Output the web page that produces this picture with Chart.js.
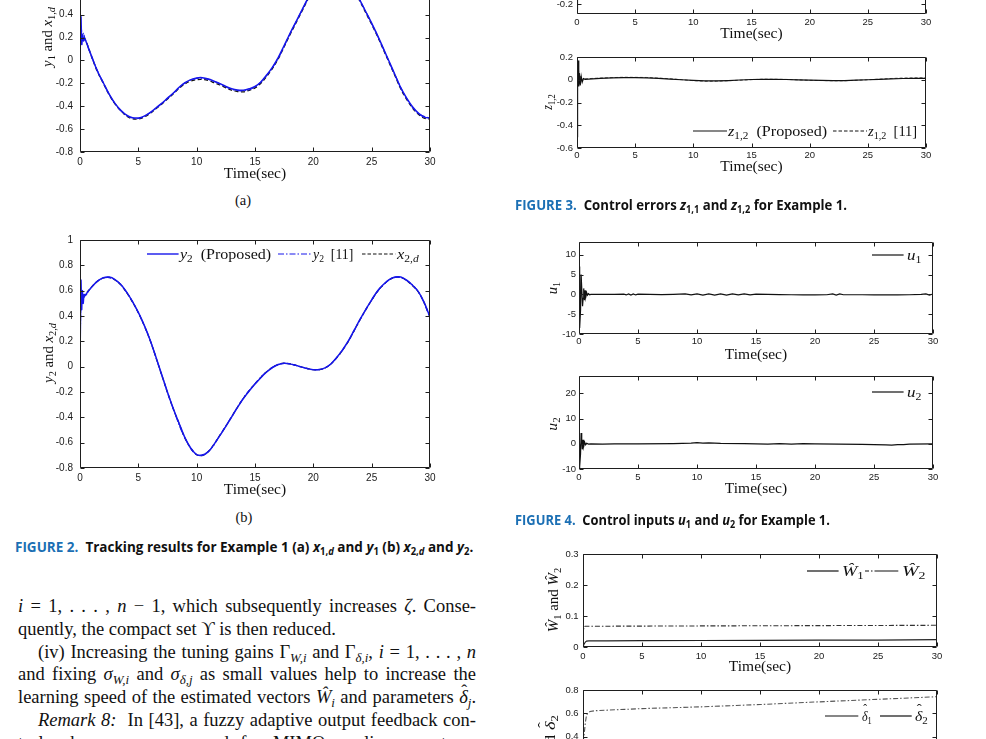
<!DOCTYPE html>
<html><head><meta charset="utf-8">
<script src="https://cdn.jsdelivr.net/npm/chart.js@4.4.0/dist/chart.umd.min.js"></script>
<style>
html,body{margin:0;padding:0;background:#fff;width:986px;height:739px;overflow:hidden;position:relative;}
.lab{position:absolute;white-space:nowrap;font-family:"Liberation Serif","DejaVu Serif",serif;line-height:1;color:#111;}
.cen{transform:translate(-50%,-50%);transform-origin:50% 50%;}
.lft{transform:translate(0,-50%);transform-origin:0 50%;}
.cap{position:absolute;white-space:nowrap;font-family:"Open Sans","Noto Sans",sans-serif;font-weight:700;font-size:14px;line-height:1;color:#111;transform:translate(0,-50%);transform-origin:0 50%;}
.cap .fig{color:#1b6fb4;}
.body{position:absolute;font-family:"Liberation Serif","DejaVu Serif",serif;font-size:18.5px;line-height:22.7px;height:22.7px;color:#111;white-space:nowrap;}
.just{text-align:justify;text-align-last:justify;white-space:normal;}
sub{font-size:70%;vertical-align:-0.3em;line-height:0;}
.hat{position:relative;display:inline-block;font-style:italic;}
.hat::after{content:"\02C6";position:absolute;left:0.12em;top:-0.42em;font-style:normal;font-size:0.95em;}
</style></head><body>

<!-- axis labels, legends, captions (real text) -->
<div class="lab cen" data-rot="1" data-w="60" style="left:47px;top:37px;font-size:14.5px"><i>y</i><sub>1</sub> and <i>x</i><sub>1,<i>d</i></sub></div>
<div class="lab cen" data-rot="1" data-w="60" style="left:48px;top:353px;font-size:14.5px"><i>y</i><sub>2</sub> and <i>x</i><sub>2,<i>d</i></sub></div>
<div class="lab cen" data-rot="1" data-w="15" style="left:547px;top:102px;font-size:14.5px"><i>z</i><sub>1,2</sub></div>
<div class="lab cen" data-rot="1" data-w="12" style="left:552px;top:288px;font-size:14.5px"><i>u</i><sub>1</sub></div>
<div class="lab cen" data-rot="1" data-w="13" style="left:552px;top:423.5px;font-size:14.5px"><i>u</i><sub>2</sub></div>
<div class="lab cen" data-rot="1" data-w="65" style="left:553px;top:600px;font-size:14.5px"><i>Ŵ</i><sub>1</sub> and <i>Ŵ</i><sub>2</sub></div>
<div class="lab cen" data-rot="1" data-w="66" style="left:550px;top:748px;font-size:14.5px"><span class="hat">δ</span><sub>1</sub> and <span class="hat">δ</span><sub>2</sub></div>

<div class="lab cen" style="left:243px;top:200px;font-size:14.5px">(a)</div>
<div class="lab cen" style="left:244px;top:517px;font-size:14.5px">(b)</div>

<div class="lab lft" data-w="90.7" style="left:180px;top:254px;font-size:14.5px"><i>y</i><sub>2</sub>&nbsp; (Proposed)</div>
<div class="lab lft" data-w="40" style="left:313px;top:254px;font-size:14.5px"><i>y</i><sub>2</sub>&nbsp; [11]</div>
<div class="lab lft" data-w="21.6" style="left:396.7px;top:254px;font-size:14.5px"><i>x</i><sub>2,<i>d</i></sub></div>

<div class="lab lft" data-w="99" style="left:728px;top:131px;font-size:14.5px"><i>z</i><sub>1,2</sub>&nbsp; (Proposed)</div>
<div class="lab lft" data-w="49" style="left:868px;top:131px;font-size:14.5px"><i>z</i><sub>1,2</sub>&nbsp; [11]</div>
<div class="lab lft" data-w="14" style="left:906.7px;top:255px;font-size:14.5px"><i>u</i><sub>1</sub></div>
<div class="lab lft" data-w="14" style="left:906.7px;top:391.7px;font-size:14.5px"><i>u</i><sub>2</sub></div>
<div class="lab lft" data-w="21.6" style="left:841.7px;top:570.7px;font-size:14.5px"><i>Ŵ</i><sub>1</sub></div>
<div class="lab lft" data-w="23.3" style="left:901.7px;top:570.7px;font-size:14.5px"><i>Ŵ</i><sub>2</sub></div>
<div class="lab lft" data-w="10" style="left:861.7px;top:716px;font-size:14.5px"><span class="hat">δ</span><sub>1</sub></div>
<div class="lab lft" data-w="13" style="left:915px;top:716px;font-size:14.5px"><span class="hat">δ</span><sub>2</sub></div>

<div class="cap" data-w="458" style="left:15px;top:547px"><span class="fig">FIGURE 2.</span>&nbsp; Tracking results for Example 1 (a) <i>x</i><sub>1,<i>d</i></sub> and <i>y</i><sub>1</sub> (b) <i>x</i><sub>2,<i>d</i></sub> and <i>y</i><sub>2</sub>.</div>
<div class="cap" data-w="332" style="left:515px;top:205px"><span class="fig">FIGURE 3.</span>&nbsp; Control errors <i>z</i><sub>1,1</sub> and <i>z</i><sub>1,2</sub> for Example 1.</div>
<div class="cap" data-w="315" style="left:515px;top:520px"><span class="fig">FIGURE 4.</span>&nbsp; Control inputs <i>u</i><sub>1</sub> and <i>u</i><sub>2</sub> for Example 1.</div>

<div class="body just" style="left:18px;width:458px;top:595.3px"><i>i</i> = 1, . . . , <i>n</i> − 1, which subsequently increases <i>ζ</i>. Conse-</div>
<div class="body" style="left:18px;top:618px">quently, the compact set ϒ is then reduced.</div>
<div class="body just" style="left:38px;width:438px;top:640.7px">(iv) Increasing the tuning gains Γ<sub><i>W,i</i></sub> and Γ<sub><i>δ,i</i></sub>, <i>i</i> = 1, . . . , <i>n</i></div>
<div class="body just" style="left:18px;width:458px;top:663.4px">and fixing <i>σ</i><sub><i>W,i</i></sub> and <i>σ</i><sub><i>δ,j</i></sub> as small values help to increase the</div>
<div class="body just" style="left:18px;width:458px;top:686.1px">learning speed of the estimated vectors <i>Ŵ</i><sub><i>i</i></sub> and parameters <span class="hat">δ</span><sub><i>j</i></sub>.</div>
<div class="body just" style="left:38px;width:438px;top:708.8px"><i>Remark 8:</i>&nbsp; In [43], a fuzzy adaptive output feedback con-</div>
<div class="body just" style="left:18px;width:458px;top:731.5px">trol scheme was proposed for MIMO nonlinear systems</div>

<script>
// ---------------- DATA ----------------
const xTicks = [0, 5, 10, 15, 20, 25, 30];

// Fig 2(a): y1 and x1,d
const ticksA = [-0.8, -0.6, -0.4, -0.2, 0, 0.2, 0.4, 0.6, 0.8, 1, 1.2];
const tA = [0,0.5,1,1.5,2,2.5,3,3.5,4,4.5,5,5.5,6,6.5,7,7.5,8,8.5,9,9.5,10,10.5,11,11.5,12,12.5,13,13.5,14,14.5,15,15.5,16,16.5,17,17.5,18,18.5,19,19.5,20,21,22,23,23.5,24,24.5,25,25.5,26,26.5,27,27.5,28,28.5,29,29.5,30];
const x1d = [0.25,0.17,0.03,-0.1,-0.2,-0.3,-0.38,-0.44,-0.487,-0.51,-0.512,-0.495,-0.463,-0.423,-0.382,-0.337,-0.292,-0.244,-0.205,-0.18,-0.168,-0.166,-0.176,-0.195,-0.215,-0.24,-0.26,-0.272,-0.274,-0.262,-0.24,-0.2,-0.14,-0.07,0.015,0.12,0.225,0.325,0.425,0.525,0.615,0.735,0.775,0.695,0.615,0.515,0.415,0.315,0.21,0.095,-0.02,-0.135,-0.25,-0.34,-0.415,-0.47,-0.505,-0.512];
const tY1trans = [0,0.08,0.15,0.22,0.3,0.4];
const y1Trans  = [0,0.38,0.14,0.22,0.17,0.19];
const y1Prop = [0.17,0.035,-0.095,-0.195,-0.295,-0.375,-0.435,-0.478,-0.5,-0.503,-0.487,-0.456,-0.416,-0.375,-0.33,-0.285,-0.235,-0.195,-0.168,-0.153,-0.151,-0.162,-0.182,-0.203,-0.227,-0.247,-0.258,-0.26,-0.248,-0.228,-0.188,-0.128,-0.058,0.027,0.13,0.235,0.335,0.435,0.535,0.625,0.745,0.785,0.705,0.625,0.525,0.425,0.325,0.22,0.105,-0.01,-0.125,-0.24,-0.33,-0.405,-0.46,-0.495,-0.503];
const tY1ref = [0,0.1,0.2,0.3,0.4,1,2,3,4,5,6,7,8,9,10,11,12,13,14,15,16,17,18,19,20,21,22,23,24,25,26,27,28,29,30];
const y1Ref  = [0,0.3,0.18,0.24,0.2,0.03,-0.198,-0.378,-0.482,-0.508,-0.458,-0.378,-0.288,-0.198,-0.157,-0.166,-0.207,-0.252,-0.266,-0.232,-0.132,0.022,0.232,0.432,0.622,0.742,0.782,0.702,0.522,0.322,0.102,-0.128,-0.333,-0.463,-0.505];

// Fig 2(b): y2 and x2,d
const ticksB = [-0.8, -0.6, -0.4, -0.2, 0, 0.2, 0.4, 0.6, 0.8, 1];
const tB = [0,0.5,1,1.5,2,2.5,3,3.5,4,4.5,5,5.5,6,6.5,7,7.5,8,8.5,9,9.5,10,10.5,11,11.5,12,12.5,13,13.5,14,14.5,15,15.5,16,16.5,17,17.5,18,18.5,19,19.5,20,20.5,21,21.5,22,22.5,23,23.5,24,24.5,25,25.5,26,26.5,27,27.5,28,28.5,29,29.5,30];
const x2d = [0.5,0.575,0.63,0.675,0.7,0.705,0.685,0.645,0.585,0.51,0.425,0.325,0.21,0.075,-0.065,-0.205,-0.335,-0.45,-0.565,-0.645,-0.695,-0.7,-0.67,-0.61,-0.54,-0.47,-0.395,-0.32,-0.25,-0.19,-0.135,-0.085,-0.04,-0.005,0.018,0.028,0.022,0.01,-0.003,-0.015,-0.024,-0.023,-0.01,0.02,0.07,0.13,0.2,0.285,0.37,0.45,0.525,0.595,0.645,0.685,0.705,0.705,0.68,0.64,0.59,0.505,0.39];
const tY2trans = [0,0.08,0.14,0.2,0.27,0.35,0.45];
const y2Trans  = [0,0.68,0.45,0.6,0.5,0.57,0.56];
const y2Prop = [0.57,0.628,0.675,0.702,0.707,0.688,0.648,0.588,0.513,0.428,0.328,0.213,0.078,-0.062,-0.202,-0.332,-0.448,-0.562,-0.643,-0.694,-0.7,-0.671,-0.612,-0.542,-0.472,-0.397,-0.322,-0.252,-0.192,-0.137,-0.087,-0.042,-0.007,0.017,0.027,0.022,0.01,-0.003,-0.015,-0.024,-0.023,-0.01,0.021,0.072,0.133,0.203,0.288,0.373,0.453,0.528,0.598,0.648,0.688,0.708,0.708,0.683,0.643,0.593,0.508,0.392];
const tY2ref = [0,0.1,0.2,0.3,0.4,1,2,3,4,5,6,7,8,9,10,11,12,13,14,15,16,17,18,19,20,21,22,23,24,25,26,27,28,29,30];
const y2Ref  = [0,0.55,0.5,0.56,0.55,0.63,0.7,0.686,0.586,0.426,0.211,-0.064,-0.334,-0.564,-0.694,-0.669,-0.539,-0.394,-0.249,-0.134,-0.039,0.018,0.022,-0.003,-0.024,-0.01,0.07,0.2,0.37,0.525,0.645,0.705,0.68,0.59,0.39];

// Fig 3: z1,1 (top, mostly cropped) and z1,2
const ticksZ11 = [-0.2, 0, 0.2];
const tZ11 = [0,0.05,0.1,0.2,0.3,0.5,1,5,10,15,20,25,30];
const z11  = [-0.25,0.12,-0.08,0.04,-0.02,0.01,0,0.01,-0.01,0.005,-0.005,0.005,0];
const ticksZ12 = [-0.6, -0.4, -0.2, 0, 0.2];
const tZ12p = [0,0.05,0.1,0.15,0.2,0.28,0.36,0.45,0.55,0.7,1,2,3,4,5,6,7,8,9,10,11,12,13,14,15,16,17,18,19,20,21,22,23,24,25,26,27,28,29,30];
const z12Prop = [-0.5,0.1,0.17,-0.06,0.06,-0.05,0.03,-0.02,0.01,0.004,0.006,0.012,0.016,0.018,0.018,0.016,0.012,0.006,0.0,-0.006,-0.01,-0.01,-0.007,-0.002,0.002,0.004,0.004,0.002,-0.001,-0.004,-0.006,-0.007,-0.007,-0.004,0.0,0.004,0.008,0.011,0.012,0.012];
const tZ12r = [0,0.06,0.12,0.2,0.3,0.45,0.7,1,2,4,6,8,10,11,12,14,16,18,20,22,23,25,27,28,30];
const z12Ref = [-0.5,0.05,0.12,-0.04,0.03,-0.01,0.008,0.01,0.015,0.022,0.02,0.009,-0.008,-0.013,-0.013,-0.004,0.005,0.003,-0.005,-0.009,-0.009,0.0,0.011,0.015,0.018];

// Fig 4: control inputs
const ticksU1 = [-10, -5, 0, 5, 10];
const tU1 = [0,0.03,0.08,0.13,0.18,0.24,0.3,0.35,0.4,0.46,0.52,0.58,0.65,0.72,0.8,0.9,1.0,1.5,2,3,3.8,4.0,4.2,4.4,4.6,4.8,5.0,6,7,8,9,9.5,10,10.5,11,11.5,12,12.5,13,13.5,14,14.5,15,16,17,18,19,20,21,21.5,21.8,22.1,22.4,23,24,25,26,27,28,29,29.4,29.7,30];
const u1 = [0,7,-8.5,-4,5,5,-3,-1,1.5,-1.5,1,-0.6,0.4,-0.2,0.15,-0.1,0,0,0,0,0.05,-0.15,0.1,-0.2,0.1,-0.15,0.05,0,-0.05,0,0.1,-0.15,0.1,-0.2,0.1,-0.2,0.1,-0.2,0.1,-0.15,0.1,-0.15,0.05,0,-0.05,-0.1,-0.15,-0.15,-0.1,0.1,-0.2,0.1,-0.1,-0.1,-0.1,-0.15,-0.1,-0.15,-0.1,0,0.1,-0.2,0.1];
const ticksU2 = [-10, 0, 10, 20];
const tU2 = [0,0.03,0.08,0.13,0.18,0.23,0.28,0.34,0.4,0.48,0.56,0.65,0.8,1,2,3,5,8,9.5,10,10.5,11,12,14,16,17,18,19,20,22,24,25,26,26.5,27,27.5,28,30];
const u2 = [0,-14,-9,-4,4.3,2,-2.2,1.6,-1,0.6,-0.4,0.2,-0.1,0,-0.1,0,0,0.1,0.3,0.5,0.3,0.4,0.2,0.1,-0.1,0.1,-0.1,0.1,0,-0.1,-0.2,-0.3,-0.4,-0.5,-0.3,-0.3,-0.1,0];

// Adaptive estimates
const ticksW = [0, 0.1, 0.2, 0.3];
const tW1 = [0,0.1,0.2,0.3,0.5,2,5,10,15,20,25,30];
const w1  = [0,0.01,0.016,0.019,0.02,0.02,0.0203,0.021,0.0215,0.022,0.0225,0.0235];
const tW2 = [0,0.03,0.08,0.2,1,10,20,30];
const w2  = [0,0.05,0.066,0.067,0.067,0.068,0.069,0.07];
const ticksD = [0, 0.2, 0.4, 0.6, 0.8];
const tD1 = [0,0.3,1,10,20,30];
const d1  = [0,0.12,0.15,0.2,0.24,0.27];
const tD2 = [0,0.1,0.2,0.3,0.4,0.6,1,5,10,15,20,25,30];
const d2  = [0.35,0.42,0.52,0.585,0.6,0.615,0.622,0.64,0.655,0.675,0.698,0.72,0.742];

// ---------------- RENDERING ----------------
const SANS = '"Liberation Sans", Arial, sans-serif';
const SERIF = '"Liberation Serif", "DejaVu Serif", serif';
const BLUE = 'rgb(22,22,235)';
const pts = (t, v) => t.map((x, i) => ({x: x, y: v[i]}));
const fmt = v => String(+(+v).toFixed(2));

const framePlugin = {
  id: 'frame',
  afterDatasetsDraw(chart) {
    const {ctx, chartArea: a} = chart;
    const xs = chart.scales.x, ys = chart.scales.y;
    const L = Math.round(a.left) + 0.5, R = Math.round(a.right) - 0.5;
    const T = Math.round(a.top) + 0.5, B = Math.round(a.bottom) - 0.5;
    const k = 4;
    ctx.save();
    ctx.strokeStyle = '#1e1e1e'; ctx.lineWidth = 1; ctx.setLineDash([]);
    ctx.beginPath();
    ctx.rect(L, T, R - L, B - T);
    xs.ticks.forEach(t => { const p = Math.round(xs.getPixelForValue(t.value)) + 0.5;
      ctx.moveTo(p, B); ctx.lineTo(p, B - k); ctx.moveTo(p, T); ctx.lineTo(p, T + k); });
    ys.ticks.forEach(t => { const p = Math.round(ys.getPixelForValue(t.value)) + 0.5;
      ctx.moveTo(L, p); ctx.lineTo(L + k, p); ctx.moveTo(R, p); ctx.lineTo(R - k, p); });
    ctx.stroke();
    ctx.restore();
  }
};

function makeChart(o) {
  const PL = 60, PT = 12, PR = 16, HX = 36;
  const L = Math.round(o.L), R = Math.round(o.R), T = Math.round(o.T), B = Math.round(o.B);
  const cw = R - L + PL + PR, ch = B - T + PT + HX;
  const cv = document.createElement('canvas');
  cv.width = cw; cv.height = ch;
  cv.style.cssText = `position:absolute;left:${L - PL}px;top:${T - PT}px;width:${cw}px;height:${ch}px;`;
  document.body.insertBefore(cv, document.body.firstChild);
  const fs = o.fs || 9;
  new Chart(cv, {
    type: 'line',
    data: {datasets: o.datasets.map(d => Object.assign({fill: false, pointRadius: 0, borderWidth: 1, tension: 0}, d))},
    options: {
      responsive: false, animation: false, devicePixelRatio: 1,
      layout: {padding: {left: 0, top: PT, right: PR, bottom: 0}},
      plugins: {legend: {display: false}, tooltip: {enabled: false}},
      scales: {
        x: {type: 'linear', min: 0, max: 30, bounds: 'data',
            afterBuildTicks: s => { s.ticks = xTicks.map(v => ({value: v})); },
            afterFit: s => { s.height = HX; },
            grid: {display: false, drawTicks: false}, border: {display: false},
            ticks: {font: {family: SANS, size: fs}, color: '#1a1a1a', padding: o.xpad, maxRotation: 0, minRotation: 0, autoSkip: false, callback: v => fmt(v)},
            title: {display: true, text: 'Time(sec)', font: {family: SERIF, size: 15.5}, color: '#111',
                    padding: {top: 0, bottom: HX - o.toff - 15.5 * 0.6}}},
        y: {type: 'linear', min: o.ymin, max: o.ymax, bounds: 'data',
            afterBuildTicks: s => { s.ticks = o.yticks.map(v => ({value: v})); },
            afterFit: s => { s.width = PL; },
            grid: {display: false, drawTicks: false}, border: {display: false},
            ticks: {font: {family: SANS, size: fs}, color: '#1a1a1a', padding: o.ypad, autoSkip: false, callback: v => fmt(v)}}
      }
    },
    plugins: [framePlugin]
  });
}

// Fig 2(a)
makeChart({L: 80, R: 430, T: -77.7, B: 152.3, ymin: -0.8, ymax: 1.2, yticks: ticksA, fs: 10, xpad: 4, ypad: 7, toff: 21.7,
  datasets: [
    {data: pts(tY1trans.concat(tA.slice(1)), y1Trans.concat(y1Prop)), borderColor: BLUE, borderWidth: 1.5, tension: 0.35},
    {data: pts(tY1ref, y1Ref), borderColor: BLUE, borderWidth: 1.1, borderDash: [6, 2, 1.5, 2], tension: 0.4},
    {data: pts(tA, x1d), borderColor: '#111', borderWidth: 1.3, borderDash: [4, 2.5], tension: 0.35}
  ]});

// Fig 2(b)
makeChart({L: 80, R: 430, T: 239, B: 468.3, ymin: -0.8, ymax: 1, yticks: ticksB, fs: 10, xpad: 4, ypad: 7, toff: 22.4,
  datasets: [
    {data: pts(tY2trans.concat(tB.slice(1)), y2Trans.concat(y2Prop)), borderColor: BLUE, borderWidth: 1.5, tension: 0.35},
    {data: pts(tY2ref, y2Ref), borderColor: BLUE, borderWidth: 1.1, borderDash: [6, 2, 1.5, 2], tension: 0.4},
    {data: pts(tB, x2d), borderColor: '#111', borderWidth: 1.2, borderDash: [4, 2.5], tension: 0.35}
  ]});

// Fig 3 top (z1,1) – mostly above the page
makeChart({L: 576.5, R: 926, T: -41.2, B: 14.3, ymin: -0.288, ymax: 0.2, yticks: ticksZ11, fs: 9.5, xpad: 2.7, ypad: 4, toff: 19.7,
  datasets: [{data: pts(tZ11, z11), borderColor: '#111'}]});

// Fig 3 bottom (z1,2)
makeChart({L: 576.5, R: 926, T: 57, B: 148.3, ymin: -0.6, ymax: 0.2, yticks: ticksZ12, fs: 9.5, xpad: 2, ypad: 4, toff: 19.4,
  datasets: [
    {data: pts(tZ12p, z12Prop), borderColor: '#111', borderWidth: 1.2},
    {data: pts(tZ12r, z12Ref), borderColor: '#555', borderWidth: 1, borderDash: [3, 2]}
  ]});

// Fig 4 u1
makeChart({L: 579, R: 933.3, T: 242, B: 334.3, ymin: -10, ymax: 13.2, yticks: ticksU1, fs: 9.5, xpad: 1.7, ypad: 3, toff: 20.7,
  datasets: [{data: pts(tU1, u1), borderColor: '#111', borderWidth: 1.2}]});

// Fig 4 u2
makeChart({L: 579, R: 933.3, T: 376, B: 469, ymin: -10, ymax: 26.9, yticks: ticksU2, fs: 9.5, xpad: 2.6, ypad: 3, toff: 20.3,
  datasets: [{data: pts(tU2, u2), borderColor: '#111', borderWidth: 1.2}]});

// W estimates
makeChart({L: 582.7, R: 936.7, T: 554.3, B: 647.3, ymin: 0, ymax: 0.3, yticks: ticksW, fs: 9.5, xpad: 3.7, ypad: 4.4, toff: 20.4,
  datasets: [
    {data: pts(tW1, w1), borderColor: '#222', borderWidth: 1.2},
    {data: pts(tW2, w2), borderColor: '#333', borderWidth: 1.1, borderDash: [5, 2, 1.5, 2]}
  ]});

// delta estimates (cropped at bottom)
makeChart({L: 582.7, R: 936.7, T: 690, B: 783.4, ymin: 0, ymax: 0.8, yticks: ticksD, fs: 9.5, xpad: 3.7, ypad: 4.4, toff: 20.4,
  datasets: [
    {data: pts(tD1, d1), borderColor: '#222', borderWidth: 1.1},
    {data: pts(tD2, d2), borderColor: '#555', borderWidth: 1.1, borderDash: [5, 2, 1.5, 2]}
  ]});

// legend line samples
function sample(x1, x2, y, color, dash, w) {
  const s = document.createElementNS('http://www.w3.org/2000/svg', 'svg');
  s.setAttribute('width', x2 - x1); s.setAttribute('height', 6);
  s.style.cssText = `position:absolute;left:${x1}px;top:${y - 3}px;overflow:visible`;
  const l = document.createElementNS('http://www.w3.org/2000/svg', 'line');
  l.setAttribute('x1', 0); l.setAttribute('x2', x2 - x1); l.setAttribute('y1', 3); l.setAttribute('y2', 3);
  l.setAttribute('stroke', color); l.setAttribute('stroke-width', w || 1.2);
  if (dash) l.setAttribute('stroke-dasharray', dash);
  s.appendChild(l); document.body.appendChild(s);
}
sample(146.7, 178.3, 254, BLUE, null, 1.4);
sample(278, 311.7, 254, BLUE, '6,2,1.5,2', 1.2);
sample(361.7, 395, 254, '#111', '3.5,2', 1.2);
sample(693, 727, 131, '#111', null, 1.2);
sample(833, 867, 131, '#111', '3.5,2', 1);
sample(871.7, 903.3, 255, '#111', null, 1.2);
sample(871.7, 903.3, 391.7, '#111', null, 1.2);
sample(806.7, 838.3, 570.7, '#111', null, 1.2);
sample(865, 898.3, 570.7, '#111', '4,2,1.5,2,40', 1.1);
sample(825, 858.3, 716, '#111', null, 1.2);
sample(880, 911.7, 716, '#111', null, 1.2);

// fit text widths to the reference
function fit() {
  document.querySelectorAll('[data-w]').forEach(el => {
    const w = +el.dataset.w, cur = el.offsetWidth;
    if (!cur) return;
    const k = w / cur;
    let base;
    if (el.classList.contains('cen')) base = 'translate(-50%,-50%)' + (el.dataset.rot ? ' rotate(-90deg)' : '');
    else base = 'translate(0,-50%)';
    el.style.transform = `${base} scaleX(${k.toFixed(3)})`;
  });
}
fit();
if (document.fonts && document.fonts.ready) document.fonts.ready.then(fit);
</script>
</body></html>
